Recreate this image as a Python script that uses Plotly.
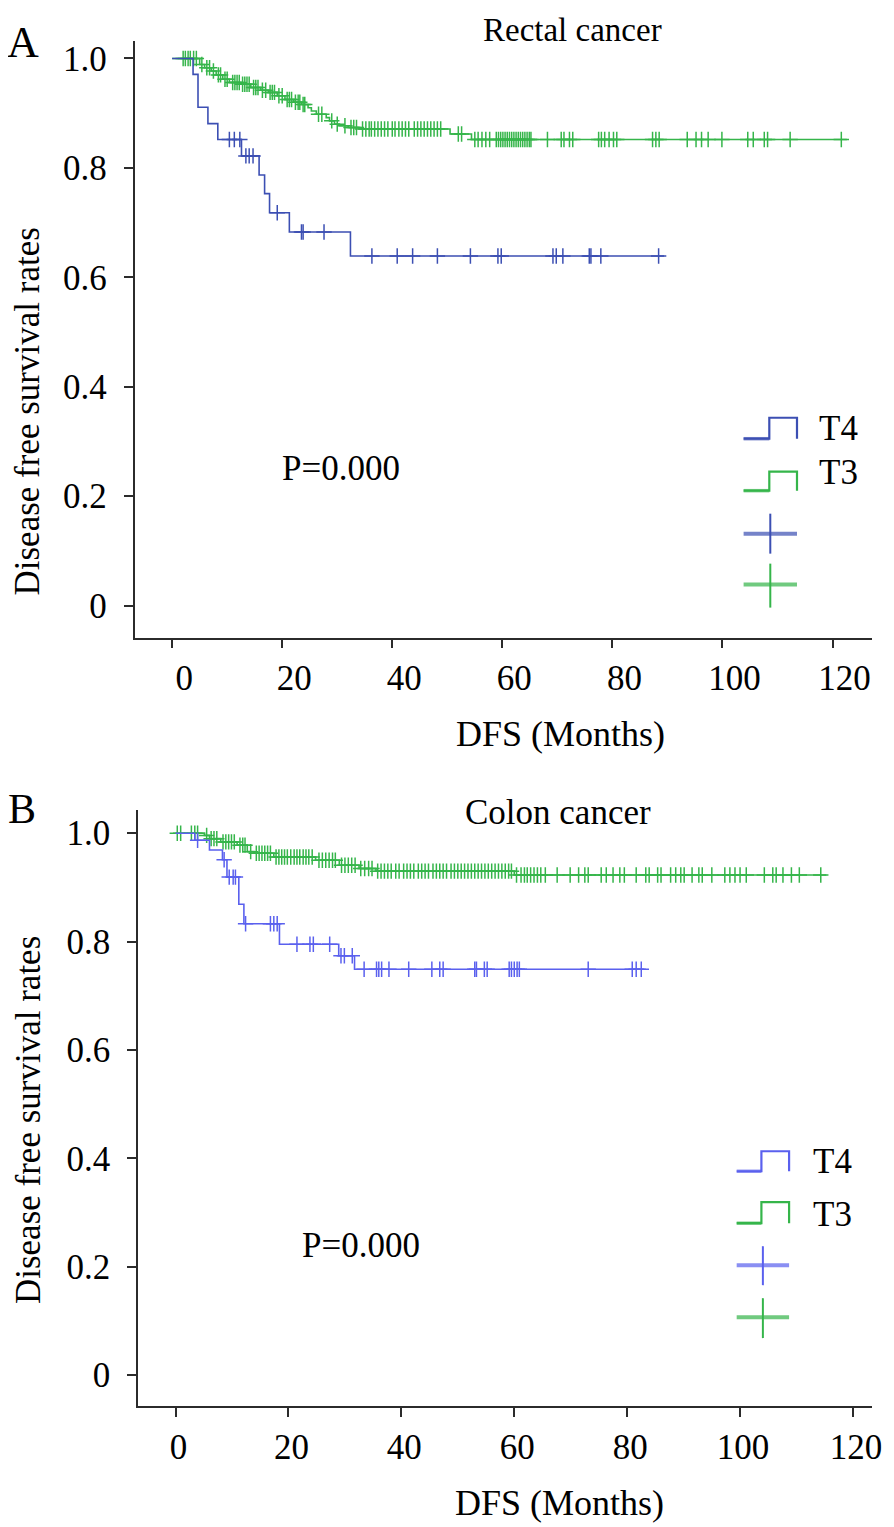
import numpy as np
import plotly.graph_objects as go

# The page body has an 8 px margin, so the figure is sized to fit the 894x1527 window
WIN_W, WIN_H = 894, 1527
OFF = 8
W, H = WIN_W - OFF, WIN_H - OFF
FONT = "Liberation Serif"

# ---------------- data: Panel A (Rectal cancer) ----------------
rect_t4_event_months = [3.8, 4.7, 6.5, 8.3, 12.6, 15.8, 16.8, 17.7, 21.3, 32.4]
rect_t4_survival = [0.971, 0.911, 0.881, 0.852, 0.822, 0.787, 0.753, 0.718, 0.683, 0.639]
rect_t4_censored = [10.4, 11.3, 12.3, 13.4, 14.0, 14.7, 19.1, 23.5, 23.8, 27.6, 36.3, 40.9,
                    43.7, 48.2, 54.2, 59.2, 59.8, 69.2, 69.8, 71.0, 75.8, 76.1, 77.9, 88.4]
rect_t4_last_month = 89.4

rect_t3_event_months = [5.0, 5.9, 7.1, 8.0, 9.2, 10.4, 12.5, 14.3, 16.1, 17.5, 19.1, 20.5,
                        22.1, 23.5, 24.7, 25.3, 26.2, 28.0, 28.6, 29.5, 30.4, 32.0, 34.0,
                        50.5, 54.4]
rect_t3_survival = [0.989, 0.983, 0.977, 0.970, 0.962, 0.956, 0.953, 0.947, 0.942, 0.938,
                    0.932, 0.925, 0.920, 0.916, 0.910, 0.904, 0.898, 0.892, 0.886, 0.880,
                    0.877, 0.874, 0.871, 0.862, 0.852]
rect_t3_censored = [2.0, 2.4, 2.9, 3.3, 3.9, 4.4, 5.4, 6.3, 6.8, 7.5, 8.4, 8.8, 9.6, 10.0,
                    11.0, 11.4, 11.8, 12.2, 12.8, 13.2, 13.6, 14.0, 14.8, 15.2, 15.6, 16.4,
                    17.0, 17.8, 18.2, 18.6, 19.4, 20.0, 20.9, 21.3, 21.7, 22.4, 22.9, 23.2,
                    23.8, 24.1, 26.6, 27.2, 29.0, 30.0, 31.4, 32.5, 33.0, 33.5, 34.6, 35.2,
                    35.8, 36.2, 36.8, 37.4, 38.0, 38.6, 39.2, 40.0, 40.5, 41.2, 41.8, 42.4,
                    43.0, 44.0, 44.6, 45.2, 45.8, 46.4, 47.0, 47.6, 48.2, 48.8, 52.0, 52.6,
                    55.0, 55.6, 56.3, 57.0, 57.7, 58.9, 59.3, 59.7, 60.1, 60.5, 60.9, 61.3,
                    61.7, 62.1, 62.5, 62.9, 63.3, 63.7, 64.1, 64.5, 64.9, 65.2, 68.2, 70.7,
                    71.2, 72.2, 72.8, 77.5, 78.0, 78.6, 79.4, 80.2, 80.8, 87.3, 87.9, 88.5,
                    93.6, 95.2, 96.2, 97.4, 99.9, 104.6, 105.6, 107.6, 108.2, 112.3, 121.6]
rect_t3_last_month = 122.6

# ---------------- data: Panel B (Colon cancer) ----------------
colon_t4_event_months = [3.4, 6.0, 8.3, 9.1, 11.2, 12.1, 18.4, 28.9, 31.7]
colon_t4_survival = [0.987, 0.969, 0.951, 0.919, 0.869, 0.833, 0.795, 0.774, 0.749]
colon_t4_censored = [3.9, 8.6, 9.5, 10.2, 10.6, 12.4, 16.8, 17.4, 18.0, 21.5, 23.8, 24.4,
                     27.3, 29.3, 29.9, 31.3, 33.4, 35.6, 36.0, 36.5, 37.8, 41.3, 45.4, 46.8,
                     47.4, 53.0, 53.3, 54.7, 55.2, 59.1, 59.5, 60.0, 60.5, 60.9, 73.1, 80.9,
                     81.6, 82.5]
colon_t4_last_month = 83.3

colon_t3_event_months = [5.1, 6.0, 8.0, 10.9, 12.7, 13.9, 17.4, 24.8, 29.0, 32.5, 35.5, 60.0]
colon_t3_survival = [0.996, 0.990, 0.984, 0.978, 0.966, 0.963, 0.956, 0.950, 0.941, 0.935,
                     0.930, 0.923]
colon_t3_censored = [0.3, 0.9, 2.8, 3.4, 3.9, 5.5, 6.3, 6.8, 7.3, 8.4, 8.9, 9.4, 9.9, 10.4,
                     11.4, 11.9, 12.3, 13.3, 14.3, 14.8, 15.3, 15.8, 16.3, 16.8, 17.8, 18.3,
                     18.8, 19.3, 19.8, 20.4, 21.0, 21.5, 22.0, 22.6, 23.1, 23.6, 24.2, 25.4,
                     26.0, 26.6, 27.2, 27.8, 28.3, 29.4, 30.0, 30.6, 31.2, 31.8, 32.8, 33.5,
                     34.2, 34.8, 35.8, 36.4, 37.0, 37.6, 38.2, 39.0, 39.6, 40.4, 41.0, 41.6,
                     42.2, 43.0, 43.6, 44.2, 44.8, 45.6, 46.2, 46.8, 47.4, 48.0, 48.8, 49.4,
                     50.0, 50.6, 51.2, 51.8, 52.4, 53.0, 53.6, 54.2, 54.8, 55.4, 56.0, 56.6,
                     57.2, 57.8, 58.4, 59.0, 59.5, 60.4, 61.2, 61.8, 62.3, 62.9, 63.5, 64.1,
                     64.7, 65.5, 67.6, 69.9, 71.4, 72.5, 73.1, 75.4, 76.3, 77.5, 78.7, 79.5,
                     81.6, 83.3, 83.9, 85.4, 86.0, 87.7, 88.6, 89.5, 90.1, 91.5, 92.7, 93.3,
                     95.0, 97.3, 98.2, 99.1, 100.0, 101.1, 104.3, 105.8, 106.4, 107.6, 109.1,
                     110.5, 114.3]
colon_t3_last_month = 115.3

x_tick_values = [0, 20, 40, 60, 80, 100, 120]
y_tick_values = [0, 0.2, 0.4, 0.6, 0.8, 1.0]
y_tick_labels = ["0", "0.2", "0.4", "0.6", "0.8", "1.0"]
group_labels = ["T4", "T3"]
panel_titles = ["Rectal cancer", "Colon cancer"]
panel_letters = ["A", "B"]
p_values = ["P=0.000", "P=0.000"]

# ---------------- styles ----------------
BLUE_A = "#3c4fb3"
BLUE_B = "#5a60ee"
GREEN = "#35b54a"
AX = "#2b2b2b"


def fx(px):
    return (px - OFF) / W


def fy(py):
    return 1 - (py - OFF) / H


def surv_at(times, surv, t):
    idx = np.searchsorted(np.array(times), np.array(t), side="right")
    s = np.concatenate([[1.0], np.array(surv)])
    return s[idx]


fig = go.Figure()


def add_km(times, surv, last, cens, color, xa, ya):
    xs = [0.0] + list(times) + [last]
    ys = [1.0] + list(surv) + [surv[-1]]
    fig.add_trace(go.Scatter(x=xs, y=ys, mode="lines", line=dict(color=color, width=1.6, shape="hv"),
                             xaxis=xa, yaxis=ya, showlegend=False, hoverinfo="skip"))
    fig.add_trace(go.Scatter(x=cens, y=surv_at(times, surv, cens), mode="markers",
                             marker=dict(symbol="cross-thin", size=11, line=dict(color=color, width=1.5)),
                             xaxis=xa, yaxis=ya, showlegend=False, hoverinfo="skip"))


add_km(rect_t3_event_months, rect_t3_survival, rect_t3_last_month, rect_t3_censored, GREEN, "x", "y")
add_km(rect_t4_event_months, rect_t4_survival, rect_t4_last_month, rect_t4_censored, BLUE_A, "x", "y")
add_km(colon_t3_event_months, colon_t3_survival, colon_t3_last_month, colon_t3_censored, GREEN, "x2", "y2")
add_km(colon_t4_event_months, colon_t4_survival, colon_t4_last_month, colon_t4_censored, BLUE_B, "x2", "y2")

axis_common = dict(showline=True, linecolor=AX, linewidth=1.5, ticks="outside", ticklen=9,
                   tickwidth=1.5, tickcolor=AX, showgrid=False, zeroline=False,
                   tickfont=dict(family=FONT, size=35, color="black"))

fig.update_layout(
    width=W, height=H, margin=dict(l=0, r=0, t=0, b=0),
    paper_bgcolor="white", plot_bgcolor="white", showlegend=False,
    xaxis=dict(domain=[fx(136), fx(882)], range=[-6.83, 127.2], anchor="y",
               tickvals=x_tick_values, ticklabelshift=12, **axis_common),
    yaxis=dict(domain=[fy(637), fy(40)], range=[-0.0584, 1.032], anchor="x",
               tickvals=y_tick_values, ticktext=y_tick_labels, ticklabelstandoff=10, **axis_common),
    xaxis2=dict(domain=[fx(139.6), fx(882)], range=[-6.64, 123.4], anchor="y2",
                tickvals=x_tick_values, ticklabelshift=3, **axis_common),
    yaxis2=dict(domain=[fy(1406), fy(810)], range=[-0.0572, 1.042], anchor="x2",
                tickvals=y_tick_values, ticktext=y_tick_labels, ticklabelstandoff=10, **axis_common),
)


def text(s, x, y, size=35, angle=0, xanchor="center"):
    fig.add_annotation(text=s, x=fx(x), y=fy(y), xref="paper", yref="paper", showarrow=False,
                       xanchor=xanchor, yanchor="middle", textangle=angle,
                       font=dict(family=FONT, size=size, color="black"))


# Panel texts
text(panel_letters[0], 5, 42, size=44, xanchor="left")
text(panel_letters[1], 6, 809, size=42, xanchor="left")
text(panel_titles[0], 579, 29, size=33)
text(panel_titles[1], 564, 812, size=35)
text("DFS (Months)", 567, 733, size=36)
text("DFS (Months)", 566, 1503, size=36)
text("Disease free survival rates", 28, 411, size=35, angle=-90)
text("Disease free survival rates", 28, 1120, size=35, angle=-90)
text(p_values[0], 345, 468, size=35)
text(p_values[1], 365, 1245, size=35)


# Legends (drawn in paper space)
def path_px(pts):
    return "M " + " L ".join(f"{fx(a):.5f},{fy(b):.5f}" for a, b in pts)


def legend(x0, x1, xm, steps, crosses, blue, labels_y, text_x):
    for (ylow, yhigh), col in zip(steps, [blue, GREEN]):
        fig.add_shape(type="path", xref="paper", yref="paper",
                      path=path_px([(x0, ylow), (xm, ylow), (xm, yhigh), (x1, yhigh), (x1, ylow)]),
                      line=dict(color=col, width=2.2))
        fig.add_shape(type="line", xref="paper", yref="paper", x0=fx(x0), x1=fx(xm), y0=fy(ylow), y1=fy(ylow),
                      line=dict(color=col, width=3.5), opacity=0.6)
    for (yc, ytop, ybot), col in zip(crosses, [blue, GREEN]):
        fig.add_shape(type="line", xref="paper", yref="paper", x0=fx(x0), x1=fx(x1), y0=fy(yc), y1=fy(yc),
                      line=dict(color=col, width=4), opacity=0.7)
        fig.add_shape(type="line", xref="paper", yref="paper", x0=fx((x0 + x1) / 2), x1=fx((x0 + x1) / 2),
                      y0=fy(ytop), y1=fy(ybot), line=dict(color=col, width=2))
    for lab, yy in zip(group_labels, labels_y):
        text(lab, text_x, yy, size=35, xanchor="left")


legend(752, 806, 778, [(438, 417), (490, 471)], [(533, 513, 553), (584, 563, 607)], BLUE_A, [428, 472], 826)
legend(745, 798, 770, [(1171, 1151), (1223, 1202)], [(1265, 1246, 1285), (1317, 1298, 1338)], BLUE_B,
       [1161, 1214], 820)

fig.write_html("out.html")
